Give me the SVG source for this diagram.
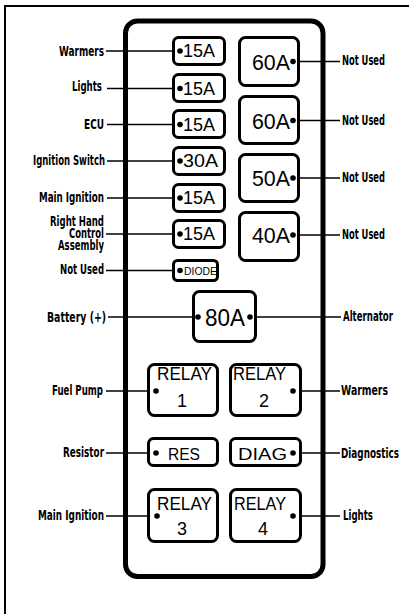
<svg xmlns="http://www.w3.org/2000/svg" width="409" height="614" viewBox="0 0 409 614">
<style>
.box{fill:#fff;stroke:#000;stroke-width:3}
.panel{fill:#fff;stroke:#000;stroke-width:5}
.frame{fill:none;stroke:#000;stroke-width:2}
.conn{stroke:#000;stroke-width:1.7;fill:none}
.dot{fill:#000}
.ft{font-family:"Liberation Sans",Arial,sans-serif;fill:#000}
.lbl{font-family:"Liberation Sans Narrow","DejaVu Sans Condensed","Liberation Sans",sans-serif;font-weight:bold;font-size:13.5px;fill:#000}
.l{text-anchor:end}
</style>
<rect width="409" height="614" fill="#fff"/>
<rect class="frame" x="5" y="6" width="420" height="620"/>
<g id="panel"><rect class="panel" x="125.5" y="21" width="197.5" height="555.5" rx="12"/></g>

<g id="connectors">
<line class="conn" x1="106" y1="51" x2="180" y2="51"/>
<line class="conn" x1="107" y1="88.5" x2="180" y2="88.5"/>
<line class="conn" x1="107" y1="124.5" x2="180" y2="124.5"/>
<line class="conn" x1="107" y1="161" x2="180" y2="161"/>
<line class="conn" x1="107" y1="198" x2="180" y2="198"/>
<line class="conn" x1="106" y1="234" x2="180" y2="234"/>
<line class="conn" x1="106" y1="270.5" x2="180" y2="270.5"/>
<line class="conn" x1="108" y1="317" x2="198" y2="317"/>
<line class="conn" x1="106" y1="391" x2="156" y2="391"/>
<line class="conn" x1="106" y1="453" x2="156" y2="453"/>
<line class="conn" x1="106" y1="516" x2="157" y2="516"/>
<line class="conn" x1="293" y1="61.5" x2="340" y2="61.5"/>
<line class="conn" x1="293" y1="120.5" x2="340" y2="120.5"/>
<line class="conn" x1="293" y1="178" x2="340" y2="178"/>
<line class="conn" x1="293" y1="235" x2="340" y2="235"/>
<line class="conn" x1="250" y1="317" x2="341" y2="317"/>
<line class="conn" x1="293" y1="391" x2="340" y2="391"/>
<line class="conn" x1="293" y1="453" x2="340" y2="453"/>
<line class="conn" x1="293" y1="516" x2="340" y2="516"/>
</g>

<g id="fuse-15a-1"><rect class="box" x="173.5" y="37.5" width="51" height="27" rx="5"/><circle class="dot" cx="180" cy="51" r="2.8"/><text class="ft" x="183" y="57" font-size="17.5" textLength="32" lengthAdjust="spacingAndGlyphs">15A</text></g>
<g id="fuse-15a-2"><rect class="box" x="173.5" y="74.5" width="51" height="27" rx="5"/><circle class="dot" cx="180" cy="88.5" r="2.8"/><text class="ft" x="183" y="94.5" font-size="17.5" textLength="32" lengthAdjust="spacingAndGlyphs">15A</text></g>
<g id="fuse-15a-3"><rect class="box" x="173.5" y="110.5" width="51" height="27" rx="5"/><circle class="dot" cx="180" cy="124.5" r="2.8"/><text class="ft" x="183" y="130.5" font-size="17.5" textLength="32" lengthAdjust="spacingAndGlyphs">15A</text></g>
<g id="fuse-30a"><rect class="box" x="173.5" y="147.5" width="51" height="27" rx="5"/><circle class="dot" cx="180" cy="161" r="2.8"/><text class="ft" x="183" y="167" font-size="17.5" textLength="35" lengthAdjust="spacingAndGlyphs">30A</text></g>
<g id="fuse-15a-4"><rect class="box" x="173.5" y="184.5" width="51" height="27" rx="5"/><circle class="dot" cx="180" cy="198" r="2.8"/><text class="ft" x="183" y="204" font-size="17.5" textLength="32" lengthAdjust="spacingAndGlyphs">15A</text></g>
<g id="fuse-15a-5"><rect class="box" x="173.5" y="220.5" width="51" height="27" rx="5"/><circle class="dot" cx="180" cy="234" r="2.8"/><text class="ft" x="183" y="240" font-size="17.5" textLength="32" lengthAdjust="spacingAndGlyphs">15A</text></g>
<g id="diode"><rect class="box" x="173.5" y="260.5" width="44" height="20" rx="4"/><circle class="dot" cx="180" cy="270.5" r="2.8"/><text class="ft" x="184" y="274.5" font-size="10" textLength="33" lengthAdjust="spacingAndGlyphs">DIODE</text></g>

<g id="fuse-60a-1"><rect class="box" x="239.5" y="37.5" width="59" height="48" rx="6"/><circle class="dot" cx="293" cy="61.5" r="2.8"/><text class="ft" x="252" y="69.5" font-size="22" textLength="38" lengthAdjust="spacingAndGlyphs">60A</text></g>
<g id="fuse-60a-2"><rect class="box" x="239.5" y="96.5" width="59" height="47" rx="6"/><circle class="dot" cx="293" cy="120.5" r="2.8"/><text class="ft" x="252" y="128.5" font-size="22" textLength="38" lengthAdjust="spacingAndGlyphs">60A</text></g>
<g id="fuse-50a"><rect class="box" x="239.5" y="154.5" width="59" height="47" rx="6"/><circle class="dot" cx="293" cy="178" r="2.8"/><text class="ft" x="252" y="186" font-size="22" textLength="38" lengthAdjust="spacingAndGlyphs">50A</text></g>
<g id="fuse-40a"><rect class="box" x="239.5" y="212.5" width="59" height="48" rx="6"/><circle class="dot" cx="293" cy="235" r="2.8"/><text class="ft" x="252" y="243" font-size="22" textLength="38" lengthAdjust="spacingAndGlyphs">40A</text></g>

<g id="fuse-80a"><rect class="box" x="193.5" y="291.5" width="62" height="50" rx="6"/><circle class="dot" cx="198" cy="317" r="2.8"/><circle class="dot" cx="250" cy="317" r="2.8"/><text class="ft" x="205" y="325.5" font-size="23" textLength="40" lengthAdjust="spacingAndGlyphs">80A</text></g>

<g id="relay-1"><rect class="box" x="148.5" y="364.5" width="69" height="51" rx="6"/><circle class="dot" cx="156" cy="391" r="2.8"/><text class="ft" x="157" y="379.5" font-size="18" textLength="55" lengthAdjust="spacingAndGlyphs">RELAY</text><text class="ft" x="182" y="406.5" font-size="18" text-anchor="middle">1</text></g>
<g id="relay-2"><rect class="box" x="230.5" y="364.5" width="70" height="51" rx="6"/><circle class="dot" cx="293" cy="391" r="2.8"/><text class="ft" x="233" y="379.5" font-size="18" textLength="53" lengthAdjust="spacingAndGlyphs">RELAY</text><text class="ft" x="264" y="406.5" font-size="18" text-anchor="middle">2</text></g>
<g id="res"><rect class="box" x="148.5" y="438.5" width="69" height="27" rx="5"/><circle class="dot" cx="156" cy="453" r="2.8"/><text class="ft" x="168" y="459.5" font-size="16" textLength="32" lengthAdjust="spacingAndGlyphs">RES</text></g>
<g id="diag"><rect class="box" x="230.5" y="438.5" width="70" height="27" rx="5"/><circle class="dot" cx="293" cy="453" r="2.8"/><text class="ft" x="238" y="459.5" font-size="16" textLength="49" lengthAdjust="spacingAndGlyphs">DIAG</text></g>
<g id="relay-3"><rect class="box" x="148.5" y="489.5" width="69" height="52" rx="6"/><circle class="dot" cx="157" cy="516" r="2.8"/><text class="ft" x="157" y="509.5" font-size="18" textLength="55" lengthAdjust="spacingAndGlyphs">RELAY</text><text class="ft" x="182" y="534.5" font-size="18" text-anchor="middle">3</text></g>
<g id="relay-4"><rect class="box" x="230.5" y="489.5" width="70" height="52" rx="6"/><circle class="dot" cx="293" cy="516" r="2.8"/><text class="ft" x="234" y="509.5" font-size="18" textLength="52" lengthAdjust="spacingAndGlyphs">RELAY</text><text class="ft" x="263" y="534.5" font-size="18" text-anchor="middle">4</text></g>

<g id="labels-left">
<text class="lbl l" x="104" y="55.5" textLength="45" lengthAdjust="spacingAndGlyphs">Warmers</text>
<text class="lbl l" x="102" y="91" textLength="30" lengthAdjust="spacingAndGlyphs">Lights</text>
<text class="lbl l" x="104" y="129" textLength="20" lengthAdjust="spacingAndGlyphs">ECU</text>
<text class="lbl l" x="105" y="164.5" textLength="72" lengthAdjust="spacingAndGlyphs">Ignition Switch</text>
<text class="lbl l" x="104" y="202" textLength="65" lengthAdjust="spacingAndGlyphs">Main Ignition</text>
<text class="lbl l" x="104" y="226" textLength="54" lengthAdjust="spacingAndGlyphs">Right Hand</text>
<text class="lbl l" x="104" y="238" textLength="35" lengthAdjust="spacingAndGlyphs">Control</text>
<text class="lbl l" x="104" y="250" textLength="46" lengthAdjust="spacingAndGlyphs">Assembly</text>
<text class="lbl l" x="104" y="273.5" textLength="44" lengthAdjust="spacingAndGlyphs">Not Used</text>
<text class="lbl l" x="106" y="322" textLength="59" lengthAdjust="spacingAndGlyphs">Battery (+)</text>
<text class="lbl l" x="103" y="395" textLength="51" lengthAdjust="spacingAndGlyphs">Fuel Pump</text>
<text class="lbl l" x="104" y="457" textLength="41" lengthAdjust="spacingAndGlyphs">Resistor</text>
<text class="lbl l" x="104" y="520" textLength="66" lengthAdjust="spacingAndGlyphs">Main Ignition</text>
</g>
<g id="labels-right">
<text class="lbl" x="342" y="65" textLength="43" lengthAdjust="spacingAndGlyphs">Not Used</text>
<text class="lbl" x="342" y="124.5" textLength="43" lengthAdjust="spacingAndGlyphs">Not Used</text>
<text class="lbl" x="342" y="182" textLength="43" lengthAdjust="spacingAndGlyphs">Not Used</text>
<text class="lbl" x="342" y="239" textLength="43" lengthAdjust="spacingAndGlyphs">Not Used</text>
<text class="lbl" x="343" y="321" textLength="50" lengthAdjust="spacingAndGlyphs">Alternator</text>
<text class="lbl" x="341" y="395" textLength="47" lengthAdjust="spacingAndGlyphs">Warmers</text>
<text class="lbl" x="341" y="457.5" textLength="58" lengthAdjust="spacingAndGlyphs">Diagnostics</text>
<text class="lbl" x="343" y="520" textLength="30" lengthAdjust="spacingAndGlyphs">Lights</text>
</g>
</svg>
